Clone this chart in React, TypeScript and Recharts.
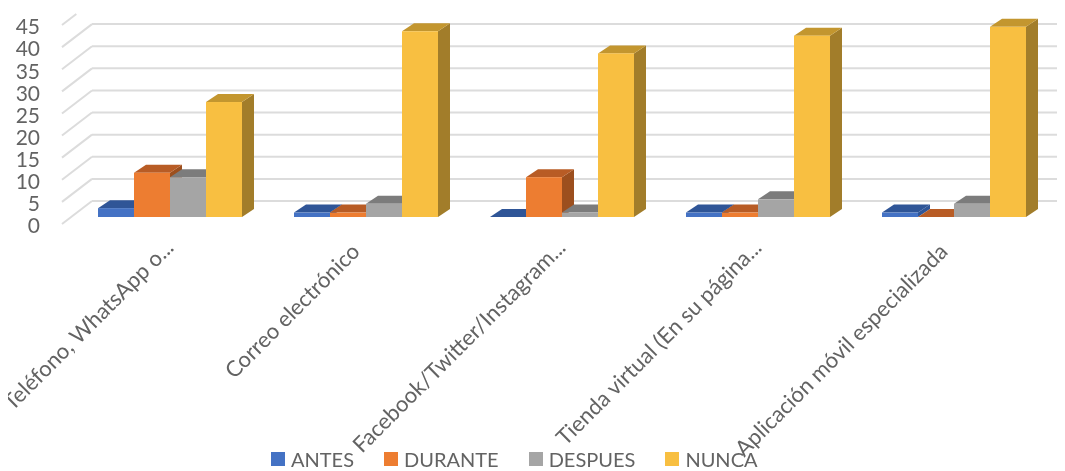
import { BarChart, Bar, XAxis, YAxis, CartesianGrid, Legend } from 'recharts';

const categories = [
  'Teléfono, WhatsApp o...',
  'Correo electrónico',
  'Facebook/Twitter/Instagram...',
  'Tienda virtual (En su página...',
  'Aplicación móvil especializada',
];
const antes = [2, 1, 0, 1, 1];
const durante = [10, 1, 9, 1, 0];
const despues = [9, 3, 1, 4, 3];
const nunca = [26, 42, 37, 41, 43];
const yTicks = [0, 5, 10, 15, 20, 25, 30, 35, 40, 45];

const data = categories.map((name, i) => ({
  name,
  antes: antes[i],
  durante: durante[i],
  despues: despues[i],
  nunca: nunca[i],
}));

const FONT = 'Lato, sans-serif';
const TEXT = '#636363';
const DEPTH_X = 12;
const DEPTH_Y = 8;

// front + top + side faces, recharts only gives us the front rect
function Bar3D({ x, y, width, height, fill, top, side }: any) {
  const r = x + width;
  const b = y + height;
  return (
    <g>
      {height > 0 && (
        <polygon
          points={`${r},${y} ${r + DEPTH_X},${y - DEPTH_Y} ${r + DEPTH_X},${b - DEPTH_Y} ${r},${b}`}
          fill={side}
        />
      )}
      <polygon
        points={`${x},${y} ${x + DEPTH_X},${y - DEPTH_Y} ${r + DEPTH_X},${y - DEPTH_Y} ${r},${y}`}
        fill={top}
      />
      <rect x={x} y={y} width={width} height={height} fill={fill} />
    </g>
  );
}

// gridlines sit on the back wall, with a diagonal going to the front edge
function GridLine({ x1, x2, y1, index }: any) {
  const ceiling = 6;
  const frontX = x1 - 10;
  const frontY = y1 + 7;
  const backX = x1 + 20;
  const backY = y1 - 16;
  let endX = backX;
  let endY = backY;
  if (backY < ceiling) {
    const t = (frontY - ceiling) / (frontY - backY);
    endX = frontX + (backX - frontX) * t;
    endY = ceiling;
  }
  return (
    <g key={`grid-${index}`} stroke="#dcdcdc" strokeWidth={2} fill="none">
      <line x1={frontX} y1={frontY} x2={endX} y2={endY} />
      {backY >= ceiling && <line x1={backX} y1={backY} x2={x2 + 10} y2={backY} />}
    </g>
  );
}

function YTick({ x, y, payload }: any) {
  return (
    <text x={x - 24} y={y + 9} dy="0.35em" textAnchor="end" fontSize={21} fontFamily={FONT} fill={TEXT}>
      {payload.value}
    </text>
  );
}

function XTick({ x, y, payload }: any) {
  // truncated labels sit a bit further right in the original
  const cut = payload.value.endsWith('...');
  const tx = cut ? x + 5 : x - 5;
  const ty = cut ? y + 24 : y + 28;
  return (
    <text
      x={tx}
      y={ty}
      textAnchor="end"
      fontSize={22}
      fontFamily={FONT}
      fill={TEXT}
      transform={`rotate(-45 ${tx} ${ty})`}
    >
      {payload.value}
    </text>
  );
}

function LegendRow({ payload }: any) {
  return (
    <div style={{ display: 'flex', gap: 30, paddingTop: 8, fontFamily: FONT, fontSize: 20, color: TEXT, lineHeight: '24px' }}>
      {payload.map((item: any) => (
        <div key={item.value} style={{ display: 'flex', alignItems: 'center', gap: 6 }}>
          <span style={{ width: 14, height: 14, background: item.color, display: 'block' }} />
          <span>{item.value}</span>
        </div>
      ))}
    </div>
  );
}

export default function App() {
  return (
    <div style={{ width: 1057, height: 463, filter: 'blur(0.6px)' }}>
      <BarChart
        width={1057}
        height={463}
        data={data}
        margin={{ top: 10, right: 13, bottom: 0, left: 0 }}
        barSize={36}
        barGap={0}
      >
        <CartesianGrid vertical={false} horizontal={(p: any) => <GridLine {...p} />} />
        <XAxis
          dataKey="name"
          interval={0}
          axisLine={false}
          tickLine={false}
          height={222}
          tick={(p: any) => <XTick {...p} />}
        />
        <YAxis
          domain={[0, 45]}
          ticks={yTicks}
          interval={0}
          width={64}
          axisLine={false}
          tickLine={false}
          tick={(p: any) => <YTick {...p} />}
        />
        <Legend
          height={32}
          itemSorter={null}
          content={(p: any) => <LegendRow {...p} />}
          wrapperStyle={{ left: 263, bottom: 0, width: 'auto' }}
        />
        <Bar dataKey="antes" name="ANTES" fill="#4472c4" isAnimationActive={false}
          shape={(p: any) => <Bar3D {...p} top="#2f5597" side="#2f5597" />} />
        <Bar dataKey="durante" name="DURANTE" fill="#ed7d31" isAnimationActive={false}
          shape={(p: any) => <Bar3D {...p} top="#b85c25" side="#9c4f1e" />} />
        <Bar dataKey="despues" name="DESPUES" fill="#a5a5a5" isAnimationActive={false}
          shape={(p: any) => <Bar3D {...p} top="#7c7c7c" side="#6a6a6a" />} />
        <Bar dataKey="nunca" name="NUNCA" fill="#f8bf41" isAnimationActive={false}
          shape={(p: any) => <Bar3D {...p} top="#c3962f" side="#a27d2a" />} />
      </BarChart>
    </div>
  );
}
